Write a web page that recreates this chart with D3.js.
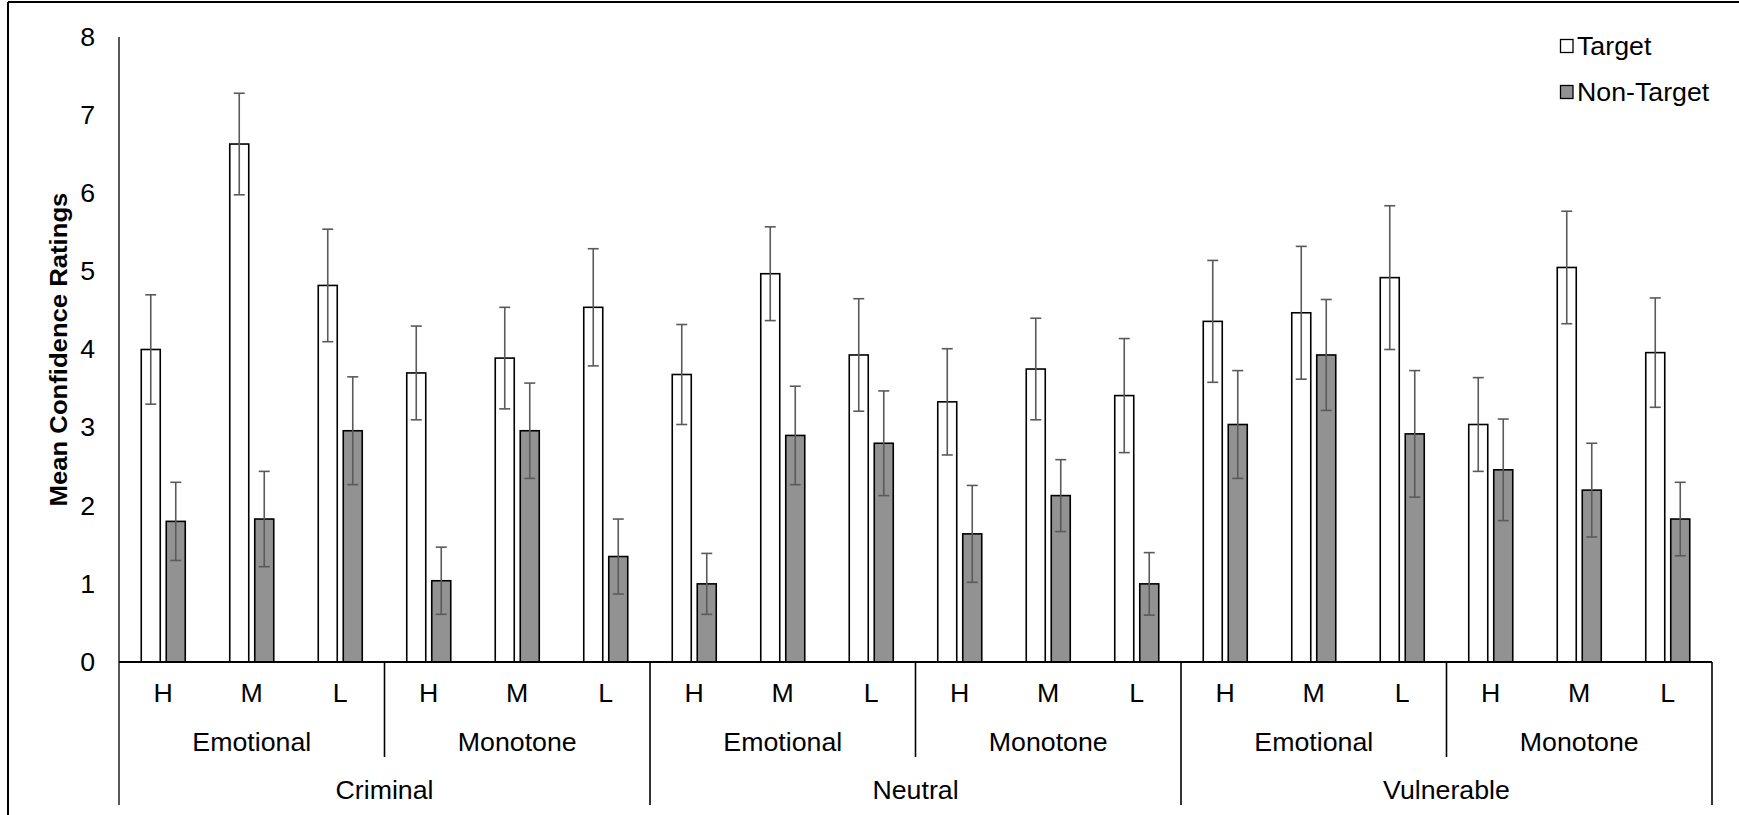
<!DOCTYPE html>
<html>
<head>
<meta charset="utf-8">
<script src="https://cdn.jsdelivr.net/npm/d3@7/dist/d3.min.js"></script>
<style>
  body { margin: 0; padding: 0; background: #fff; }
  svg { display: block; font-family: Arial, "Liberation Sans", sans-serif; }
</style>
</head>
<body>
<div id="chart"></div>
<script>
// chart data
var levels = ["H", "M", "L"];
var styles = ["Emotional", "Monotone"];
var characters = ["Criminal", "Neutral", "Vulnerable"];
var series = ["Target", "Non-Target"];
var yTicks = [0, 1, 2, 3, 4, 5, 6, 7, 8];

// 18 groups: character x style x level
var targetMean    = [4.00, 6.63, 4.82, 3.70, 3.89, 4.54, 3.68, 4.97, 3.93, 3.33, 3.75, 3.41, 4.36, 4.47, 4.92, 3.04, 5.05, 3.96];
var targetErr     = [0.70, 0.65, 0.72, 0.60, 0.65, 0.75, 0.64, 0.60, 0.72, 0.68, 0.65, 0.73, 0.78, 0.85, 0.92, 0.60, 0.72, 0.70];
var nonTargetMean = [1.80, 1.83, 2.96, 1.04, 2.96, 1.35, 1.00, 2.90, 2.80, 1.64, 2.13, 1.00, 3.04, 3.93, 2.92, 2.46, 2.20, 1.83];
var nonTargetErr  = [0.50, 0.61, 0.69, 0.43, 0.61, 0.48, 0.39, 0.63, 0.67, 0.62, 0.46, 0.40, 0.69, 0.71, 0.81, 0.65, 0.60, 0.47];

var W = 1739, H = 815;
var plotLeft = 119, plotRight = 1712, plotTop = 37, zeroY = 662;
var row1 = 693, row2 = 742, row3 = 790, subBottom = 757, axisBottom = 805;
var stretch = 1.07; // the original's text is a little wider than Arial

// build groups
var groups = [];
characters.forEach(function(c) {
  styles.forEach(function(s) {
    levels.forEach(function(l) {
      groups.push({ character: c, style: s, level: l, key: c + "|" + s + "|" + l });
    });
  });
});
groups.forEach(function(g, i) {
  g.bars = [
    { series: "Target", value: targetMean[i], err: targetErr[i] },
    { series: "Non-Target", value: nonTargetMean[i], err: nonTargetErr[i] }
  ];
});

function place(fx, fy) {
  return function(d, i) {
    return "translate(" + fx(d, i) + "," + fy(d, i) + ") scale(" + stretch + ",1)";
  };
}

var svg = d3.select("#chart").append("svg")
  .attr("width", W).attr("height", H);

// outer chart border (top + left visible)
svg.append("line").attr("x1", 8).attr("x2", 8).attr("y1", 2).attr("y2", H)
  .attr("stroke", "#000").attr("stroke-width", 2);
svg.append("line").attr("x1", 8).attr("x2", W).attr("y1", 2).attr("y2", 2)
  .attr("stroke", "#000").attr("stroke-width", 2);

var x0 = d3.scaleBand().domain(groups.map(function(g) { return g.key; }))
  .range([plotLeft, plotRight]).padding(0);
var bw = x0.bandwidth();
var x1 = d3.scaleBand().domain(series)
  .range([bw / 2 - 22.5, bw / 2 + 22.5]).paddingInner(0.2);
var y = d3.scaleLinear().domain([0, 8]).range([zeroY, plotTop]);

// y axis
svg.append("line").attr("x1", plotLeft).attr("x2", plotLeft).attr("y1", plotTop).attr("y2", axisBottom)
  .attr("stroke", "#000").attr("stroke-width", 1.3);
svg.selectAll(".ytick").data(yTicks).enter().append("text")
  .attr("class", "ytick")
  .attr("transform", place(function() { return 95; }, function(d) { return y(d); }))
  .attr("dy", "0.35em").attr("text-anchor", "end")
  .attr("font-size", 25).text(function(d) { return d; });

svg.append("text")
  .attr("transform", "translate(59," + (plotTop + zeroY) / 2 + ") rotate(-90) scale(" + stretch + ",1)")
  .attr("text-anchor", "middle").attr("dy", "0.35em")
  .attr("font-size", 24).attr("font-weight", "bold")
  .text("Mean Confidence Ratings");

// bars
var gSel = svg.selectAll(".grp").data(groups).enter().append("g")
  .attr("class", "grp")
  .attr("transform", function(d) { return "translate(" + x0(d.key) + ",0)"; });

gSel.selectAll("rect").data(function(d) { return d.bars; }).enter().append("rect")
  .attr("x", function(d) { return x1(d.series) + 0.5; })
  .attr("width", x1.bandwidth() - 1)
  .attr("y", function(d) { return y(d.value); })
  .attr("height", function(d) { return zeroY - y(d.value); })
  .attr("fill", function(d) { return d.series === "Target" ? "#fff" : "#929292"; })
  .attr("stroke", "#000").attr("stroke-width", 1.6);

// error bars
var eb = gSel.selectAll(".err").data(function(d) { return d.bars; }).enter().append("g")
  .attr("class", "err")
  .attr("stroke", "#5a5a5a").attr("stroke-width", 1.6);
function cx(d) { return x1(d.series) + x1.bandwidth() / 2; }
eb.append("line")
  .attr("x1", cx).attr("x2", cx)
  .attr("y1", function(d) { return y(d.value + d.err); })
  .attr("y2", function(d) { return y(d.value - d.err); });
eb.append("line")
  .attr("x1", function(d) { return cx(d) - 5.5; }).attr("x2", function(d) { return cx(d) + 5.5; })
  .attr("y1", function(d) { return y(d.value + d.err); })
  .attr("y2", function(d) { return y(d.value + d.err); });
eb.append("line")
  .attr("x1", function(d) { return cx(d) - 5.5; }).attr("x2", function(d) { return cx(d) + 5.5; })
  .attr("y1", function(d) { return y(d.value - d.err); })
  .attr("y2", function(d) { return y(d.value - d.err); });

// x axis line
svg.append("line").attr("x1", plotLeft).attr("x2", plotRight).attr("y1", zeroY).attr("y2", zeroY)
  .attr("stroke", "#000").attr("stroke-width", 1.8);

// level labels
svg.selectAll(".lvl").data(groups).enter().append("text")
  .attr("class", "lvl")
  .attr("transform", place(function(d) { return x0(d.key) + bw / 2; }, function() { return row1; }))
  .attr("dy", "0.35em").attr("text-anchor", "middle")
  .attr("font-size", 25).text(function(d) { return d.level; });

// style labels and dividers
var styleBlocks = [];
characters.forEach(function(c) {
  styles.forEach(function(s) {
    var keys = levels.map(function(l) { return c + "|" + s + "|" + l; });
    styleBlocks.push({ name: s, x0: x0(keys[0]), x1: x0(keys[2]) + bw });
  });
});
svg.selectAll(".sty").data(styleBlocks).enter().append("text")
  .attr("class", "sty")
  .attr("transform", place(function(d) { return (d.x0 + d.x1) / 2; }, function() { return row2; }))
  .attr("dy", "0.35em").attr("text-anchor", "middle")
  .attr("font-size", 25).text(function(d) { return d.name; });
svg.selectAll(".sdiv").data(styleBlocks.filter(function(d, i) { return i % 2 === 1; })).enter().append("line")
  .attr("class", "sdiv")
  .attr("x1", function(d) { return d.x0; }).attr("x2", function(d) { return d.x0; })
  .attr("y1", zeroY).attr("y2", subBottom)
  .attr("stroke", "#000").attr("stroke-width", 1.6);

// character labels and dividers
var charBlocks = characters.map(function(c) {
  return { name: c, x0: x0(c + "|Emotional|H"), x1: x0(c + "|Monotone|L") + bw };
});
svg.selectAll(".chr").data(charBlocks).enter().append("text")
  .attr("class", "chr")
  .attr("transform", place(function(d) { return (d.x0 + d.x1) / 2; }, function() { return row3; }))
  .attr("dy", "0.35em").attr("text-anchor", "middle")
  .attr("font-size", 25).text(function(d) { return d.name; });
svg.selectAll(".cdiv").data(charBlocks).enter().append("line")
  .attr("class", "cdiv")
  .attr("x1", function(d) { return d.x1; }).attr("x2", function(d) { return d.x1; })
  .attr("y1", zeroY).attr("y2", axisBottom)
  .attr("stroke", "#000").attr("stroke-width", 1.6);

// legend
var legend = svg.selectAll(".leg").data(series).enter().append("g")
  .attr("class", "leg")
  .attr("transform", function(d, i) { return "translate(1560," + (46 + i * 46) + ")"; });
legend.append("rect").attr("x", 0.5).attr("y", -6.5).attr("width", 12.5).attr("height", 13)
  .attr("fill", function(d) { return d === "Target" ? "#fff" : "#929292"; })
  .attr("stroke", "#000").attr("stroke-width", 1.3);
legend.append("text")
  .attr("transform", "translate(17,0) scale(" + stretch + ",1)")
  .attr("dy", "0.35em")
  .attr("font-size", 25).text(function(d) { return d; });
</script>
</body>
</html>
